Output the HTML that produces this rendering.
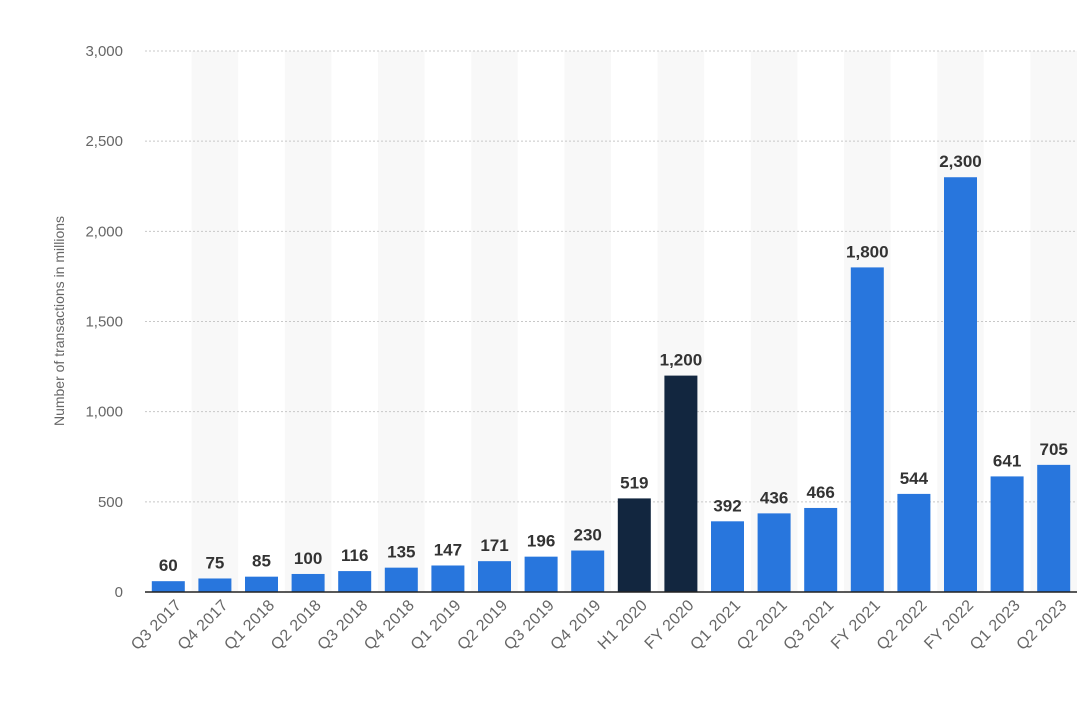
<!DOCTYPE html>
<html><head><meta charset="utf-8"><style>
body{margin:0;background:#fff;font-family:"Liberation Sans",sans-serif}
svg{display:block}
</style></head><body>
<svg id="chart" width="1092" height="703" xmlns="http://www.w3.org/2000/svg"></svg>
<script>
const categories=["Q3 2017","Q4 2017","Q1 2018","Q2 2018","Q3 2018","Q4 2018","Q1 2019","Q2 2019","Q3 2019","Q4 2019","H1 2020","FY 2020","Q1 2021","Q2 2021","Q3 2021","FY 2021","Q2 2022","FY 2022","Q1 2023","Q2 2023"];
const values=[60,75,85,100,116,135,147,171,196,230,519,1200,392,436,466,1800,544,2300,641,705];
const valueLabels=["60","75","85","100","116","135","147","171","196","230","519","1,200","392","436","466","1,800","544","2,300","641","705"];
const darkBars=["H1 2020","FY 2020"];
const yTicks=[0,500,1000,1500,2000,2500,3000];
const yTickLabels=["0","500","1,000","1,500","2,000","2,500","3,000"];

const svg=document.getElementById('chart');
const NS="http://www.w3.org/2000/svg";
const x0=145,x1=1077,y0=592,yTop=51,yMax=3000;
const step=(x1-x0)/categories.length;
const yScale=v=>y0-(v/yMax)*(y0-yTop);
const xCenter=i=>x0+step*(i+0.5);
function mk(tag,attrs){const e=document.createElementNS(NS,tag);for(const k in attrs)e.setAttribute(k,attrs[k]);svg.appendChild(e);return e;}

categories.forEach((c,i)=>{if(i%2===1){
 const b=mk('rect',{x:xCenter(i)-step/2,y:yTop,width:step,height:y0-yTop,fill:'#f8f8f8'});
 
 
}});
yTicks.forEach((t,i)=>{
 const y=yScale(t);
 if(t>0){const g=mk('line',{x1:x0,x2:x1,y1:y,y2:y,stroke:'#c8c8c8','stroke-dasharray':'2,2'});
 
 }
 const l=mk('text',{x:123,y:y+5,'text-anchor':'end','font-size':'15',fill:'#666'});
 l.textContent=yTickLabels[i];
 
 
});
const yt=mk('text',{transform:'translate(64,321) rotate(-90)','text-anchor':'middle','font-size':'14',fill:'#666'});
yt.textContent='Number of transactions in millions';



const bw=33;
categories.forEach((c,i)=>{
 const cx=xCenter(i),y=yScale(values[i]);
 const r=mk('rect',{x:cx-bw/2,y:y,width:bw,height:y0-y,fill:darkBars.includes(c)?'#12263f':'#2876dd'});
 
 
 const v=mk('text',{x:cx,y:y-10,'text-anchor':'middle','font-size':'17','font-weight':'bold',fill:'#333'});
 v.textContent=valueLabels[i];
 
 
 const xl=mk('text',{transform:`translate(${cx+14},${y0+14}) rotate(-45)`,'text-anchor':'end','font-size':'16',fill:'#666','letter-spacing':'0.3'});
 xl.textContent=c;
 
 
});
const ax=mk('line',{x1:x0,x2:x1,y1:y0,y2:y0,stroke:'#222','stroke-width':'1.5'});


</script>
</body></html>
